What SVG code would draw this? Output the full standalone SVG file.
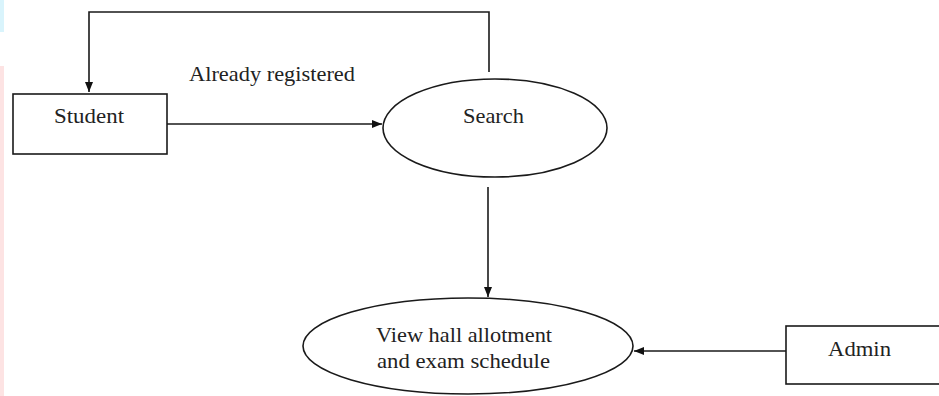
<svg xmlns="http://www.w3.org/2000/svg" width="939" height="396" viewBox="0 0 939 396">
<style>
.shape{fill:#fff;stroke:#1a1a1a;stroke-width:1.6}
.conn{fill:none;stroke:#1a1a1a;stroke-width:1.6}
text{font-family:"Liberation Serif","Times New Roman",serif;font-size:21px;fill:#222}
</style>
<defs>
<marker id="arr" viewBox="0 0 10 10" refX="10" refY="5" markerWidth="10" markerHeight="10" markerUnits="userSpaceOnUse" orient="auto">
<path d="M0,1 L10,5 L0,9 Z" fill="#111"/>
</marker>
</defs>
<rect x="0" y="0" width="939" height="396" fill="#fff"/>
<rect x="0" y="0" width="4" height="32" fill="#d9f4fc"/>
<rect x="0" y="66" width="4" height="330" fill="#fde3e3"/>
<g id="connectors">
<path class="conn" d="M489,72 V12 H89 V92" marker-end="url(#arr)"/>
<path class="conn" d="M167,124 H382" marker-end="url(#arr)"/>
<path class="conn" d="M488,187 V297" marker-end="url(#arr)"/>
<path class="conn" d="M786,351 H634" marker-end="url(#arr)"/>
<text x="189" y="81" textLength="166" lengthAdjust="spacingAndGlyphs">Already registered</text>
</g>
<g id="student">
<rect class="shape" x="13" y="94" width="154" height="60"/>
<text x="54" y="123" textLength="70" lengthAdjust="spacingAndGlyphs">Student</text>
</g>
<g id="search">
<ellipse class="shape" cx="495" cy="128" rx="112" ry="49"/>
<text x="463" y="123" textLength="61" lengthAdjust="spacingAndGlyphs">Search</text>
</g>
<g id="view">
<ellipse class="shape" cx="468" cy="346" rx="165" ry="48"/>
<text x="376" y="342" textLength="176" lengthAdjust="spacingAndGlyphs">View hall allotment</text>
<text x="377" y="368" textLength="173" lengthAdjust="spacingAndGlyphs">and exam schedule</text>
</g>
<g id="admin">
<rect class="shape" x="786" y="326" width="160" height="58"/>
<text x="828" y="356" textLength="63" lengthAdjust="spacingAndGlyphs">Admin</text>
</g>
</svg>
